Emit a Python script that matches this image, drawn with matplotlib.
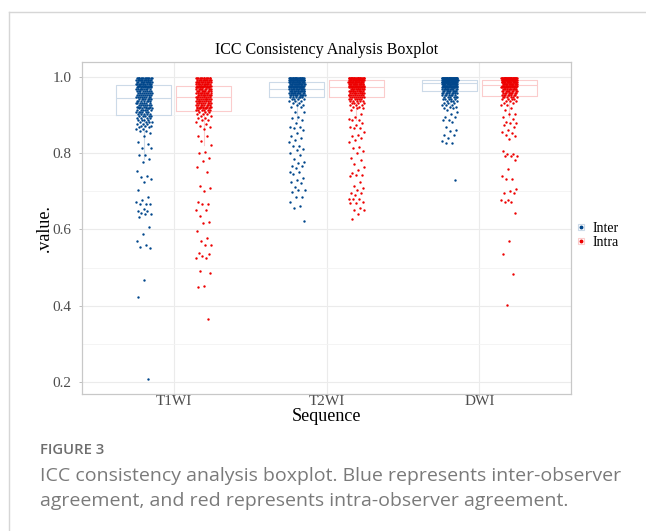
import numpy as np
import matplotlib
matplotlib.use("Agg")
import matplotlib.pyplot as plt
from matplotlib.lines import Line2D

# ----------------- DATA -----------------
SEQUENCES = ["T1WI", "T2WI", "DWI"]
GROUPS = ["Inter", "Intra"]

BIN_W = 0.005   # dense part: counts per 0.005 bin, going down from 1.0

t1_inter_counts = [14, 13, 12, 12, 10, 9, 9, 8, 8, 8, 8, 7, 7, 7, 7, 6, 6, 6, 6, 5,
                   5, 4, 4, 4, 3, 3, 2, 2, 2, 1]
t1_inter_tail = [0.846, 0.829, 0.825, 0.813, 0.813, 0.796, 0.794, 0.785, 0.776, 0.754,
                 0.739, 0.737, 0.733, 0.725, 0.704, 0.686, 0.676, 0.671, 0.667, 0.667,
                 0.667, 0.653, 0.649, 0.647, 0.644, 0.641, 0.641, 0.633, 0.607, 0.588,
                 0.570, 0.560, 0.553, 0.551, 0.468, 0.423, 0.207]

t1_intra_counts = [13, 12, 12, 11, 11, 10, 10, 10, 10, 10, 9, 9, 9, 8, 8, 8, 7, 6, 3, 3,
                   2, 2, 2, 1, 1, 1, 1, 1]
t1_intra_tail = [0.846, 0.846, 0.833, 0.822, 0.803, 0.800, 0.788, 0.779, 0.765, 0.750,
                 0.713, 0.708, 0.702, 0.672, 0.667, 0.667, 0.651, 0.651, 0.635, 0.620,
                 0.616, 0.595, 0.577, 0.570, 0.558, 0.558, 0.538, 0.535, 0.531, 0.525,
                 0.525, 0.492, 0.486, 0.452, 0.449, 0.366]

t2_inter_counts = [22, 20, 18, 16, 15, 14, 13, 13, 12, 11, 6, 4, 3, 2, 2]
t2_inter_tail = [0.922, 0.922, 0.909, 0.909, 0.896, 0.892, 0.887, 0.878, 0.869, 0.869,
                 0.865, 0.861, 0.852, 0.846, 0.841, 0.835, 0.830, 0.819, 0.819, 0.811,
                 0.808, 0.800, 0.795, 0.785, 0.778, 0.773, 0.767, 0.767, 0.760, 0.751,
                 0.751, 0.745, 0.736, 0.730, 0.725, 0.721, 0.712, 0.703, 0.703, 0.699,
                 0.686, 0.686, 0.673, 0.662, 0.657, 0.621]

t2_intra_counts = [24, 20, 17, 15, 14, 13, 12, 11, 10, 9, 8, 6, 5, 4, 3, 2, 2]
t2_intra_tail = [0.913, 0.904, 0.896, 0.891, 0.887, 0.887, 0.878, 0.874, 0.869, 0.865,
                 0.865, 0.856, 0.849, 0.846, 0.841, 0.835, 0.830, 0.817, 0.813, 0.806,
                 0.800, 0.788, 0.782, 0.772, 0.765, 0.756, 0.747, 0.743, 0.743, 0.739,
                 0.724, 0.715, 0.708, 0.703, 0.695, 0.695, 0.690, 0.680, 0.680, 0.680,
                 0.673, 0.669, 0.669, 0.657, 0.651, 0.651, 0.640, 0.627]

dwi_inter_counts = [34, 28, 24, 20, 17, 14, 12, 10, 9, 7, 6, 5, 4, 3, 3, 2]
dwi_inter_tail = [0.918, 0.918, 0.913, 0.909, 0.904, 0.896, 0.896, 0.887, 0.887, 0.883,
                  0.869, 0.862, 0.859, 0.849, 0.847, 0.841, 0.833, 0.828, 0.826, 0.729]

dwi_intra_counts = [32, 24, 19, 16, 14, 12, 11, 10, 9, 8, 6, 4, 3, 2, 2]
dwi_intra_tail = [0.918, 0.913, 0.904, 0.904, 0.896, 0.889, 0.882, 0.878, 0.878, 0.874,
                  0.868, 0.862, 0.856, 0.852, 0.849, 0.845, 0.836, 0.806, 0.799, 0.799,
                  0.792, 0.792, 0.792, 0.782, 0.758, 0.740, 0.731, 0.731, 0.707, 0.701,
                  0.696, 0.696, 0.678, 0.678, 0.672, 0.672, 0.643, 0.570, 0.535, 0.483,
                  0.401]

# box summaries: (whislo, q1, med, q3, whishi)
box_inter = [(0.785, 0.899, 0.945, 0.980, 1.0),
             (0.887, 0.947, 0.969, 0.987, 1.0),
             (0.918, 0.962, 0.983, 0.992, 1.0)]
box_intra = [(0.822, 0.912, 0.948, 0.977, 1.0),
             (0.887, 0.948, 0.973, 0.992, 1.0),
             (0.896, 0.951, 0.979, 0.992, 1.0)]
# ----------------------------------------

COLORS = {"Inter": "#00468B", "Intra": "#ED0000"}
BOX_COLORS = {"Inter": "#ccdae8", "Intra": "#fbcccc"}
DODGE = 0.195
JITTER = 0.052
SERIF = ["Liberation Serif", "DejaVu Serif"]


def expand(counts, tail):
    centers = 1.0 - BIN_W * (np.arange(len(counts)) + 0.5)
    centers[0] = 0.9985
    dense = np.repeat(centers, counts)
    return np.concatenate([dense, np.asarray(tail)])


def jitter_offsets(n, seed):
    # deterministic low-discrepancy spread, like geom_jitter
    frac = (np.arange(n) * 0.6180339887 + seed) % 1.0
    return (frac - 0.5) * 2 * JITTER


def main():
    data = {
        "Inter": [expand(t1_inter_counts, t1_inter_tail),
                  expand(t2_inter_counts, t2_inter_tail),
                  expand(dwi_inter_counts, dwi_inter_tail)],
        "Intra": [expand(t1_intra_counts, t1_intra_tail),
                  expand(t2_intra_counts, t2_intra_tail),
                  expand(dwi_intra_counts, dwi_intra_tail)],
    }
    boxes = {"Inter": box_inter, "Intra": box_intra}

    fig = plt.figure(figsize=(6.46, 5.31), dpi=100)
    ax = fig.add_axes([0.127, 0.258, 0.757, 0.625])

    for gi, g in enumerate(GROUPS):
        off = -DODGE if g == "Inter" else DODGE
        stats = []
        for lo, q1, med, q3, hi in boxes[g]:
            stats.append(dict(whislo=lo, q1=q1, med=med, q3=q3, whishi=hi, fliers=[]))
        pos = np.arange(1, len(SEQUENCES) + 1) + off
        lc = BOX_COLORS[g]
        ax.bxp(stats, positions=pos, widths=0.36, showcaps=False, showfliers=False,
               boxprops=dict(color=lc, linewidth=0.8),
               whiskerprops=dict(color=lc, linewidth=0.8),
               medianprops=dict(color=lc, linewidth=0.8),
               manage_ticks=False, zorder=2)
        for si, vals in enumerate(data[g]):
            x = pos[si] + jitter_offsets(len(vals), 0.13 + 0.31 * si + 0.57 * gi)
            ax.scatter(x, vals, s=3, color=COLORS[g], linewidths=0, zorder=3)

    ax.set_xlim(0.4, 3.6)
    ax.set_ylim(0.168, 1.039)
    ax.set_xticks([1, 2, 3])
    ax.set_xticklabels(SEQUENCES)
    ax.set_yticks([0.2, 0.4, 0.6, 0.8, 1.0])
    ax.set_yticklabels(["0.2", "0.4", "0.6", "0.8", "1.0"])
    ax.set_yticks([0.3, 0.5, 0.7, 0.9], minor=True)
    ax.grid(which="major", color="#ebebeb", linewidth=0.8, zorder=0)
    ax.grid(which="minor", axis="y", color="#f3f3f3", linewidth=0.6, zorder=0)
    ax.set_axisbelow(True)
    for sp in ax.spines.values():
        sp.set_color("#c8c8c8")
        sp.set_linewidth(0.9)
    ax.tick_params(which="major", length=2.5, width=0.6, color="#b3b3b3",
                   labelcolor="#4d4d4d", labelsize=11)
    ax.tick_params(axis="x", pad=-2)
    ax.tick_params(axis="y", pad=5)
    ax.tick_params(which="minor", length=0)
    for lab in ax.get_xticklabels() + ax.get_yticklabels():
        lab.set_family(SERIF)

    ax.set_title("ICC Consistency Analysis Boxplot", family=SERIF, fontsize=11.5, pad=6)
    ax.set_xlabel("Sequence", family=SERIF, fontsize=13, labelpad=0)
    ax.set_ylabel(".value.", family=SERIF, fontsize=13, labelpad=0)

    handles = []
    for g in GROUPS:
        sq = Line2D([], [], marker="s", markersize=5, markerfacecolor="white",
                    markeredgecolor=BOX_COLORS[g], markeredgewidth=0.8, linestyle="none")
        dot = Line2D([], [], marker="o", markersize=1.8, color=COLORS[g], linestyle="none")
        handles.append((sq, dot))
    fig.legend(handles, GROUPS, loc="center left", bbox_to_anchor=(0.872, 0.557),
               frameon=False, handlelength=0.8, handletextpad=0.4, labelspacing=0.05,
               prop=dict(family=SERIF, size=10))

    # page frame lines
    fig.add_artist(Line2D([9 / 646, 1], [1 - 12 / 531, 1 - 12 / 531],
                          color="#d6d6d6", linewidth=1.0))
    fig.add_artist(Line2D([9 / 646, 9 / 646], [0, 1 - 12 / 531],
                          color="#d6d6d6", linewidth=1.0))

    fig.text(40 / 646, 1 - 450 / 531, "FIGURE 3", family="Open Sans", fontsize=10.7,
             color="#6e6e6e", va="center", weight="semibold")
    fig.text(40 / 646, 1 - 476 / 531,
             "ICC consistency analysis boxplot. Blue represents inter-observer",
             family="Open Sans", fontsize=14, color="#7a7a7a", va="center")
    fig.text(40 / 646, 1 - 501 / 531,
             "agreement, and red represents intra-observer agreement.",
             family="Open Sans", fontsize=14, color="#7a7a7a", va="center")

    fig.savefig("out.png", dpi=100)
    plt.close(fig)


if __name__ == "__main__":
    main()
